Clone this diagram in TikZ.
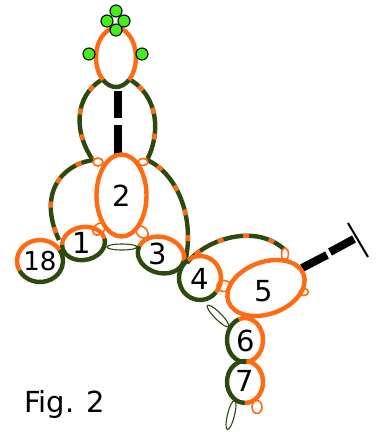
\documentclass[tikz,border=0pt]{standalone}
\usepackage{fontspec}
\setmainfont{DejaVu Sans}
\definecolor{ringorange}{HTML}{FF6A13}
\definecolor{ringgreen}{HTML}{2D4A0E}
\definecolor{beadgreen}{HTML}{44EE1A}
\tikzset{
  orangearc/.style={draw=ringorange,line width=4.4pt},
  greenarc/.style={draw=ringgreen,line width=4.4pt},
  chainline/.style={draw=ringgreen,line width=4.4pt,postaction={draw=ringorange,dash pattern=on 6pt off 20pt,dash phase=14pt}},
  picot/.style={draw=ringorange,fill=white,line width=1.6pt},
  josephine/.style={draw=ringgreen,fill=white,line width=1.1pt},
  bead/.style={draw=black,fill=beadgreen,line width=1.1pt},
  barline/.style={draw=black,line width=8pt},
  numlabel/.style={font=\fontsize{29}{29}\selectfont,inner sep=0pt}
}
% center, x radius, y radius, rotation, start, end
\newcommand{\ringarc}[7]{\draw[#1,shift={(#2)},rotate=#5] (#6:#3 and #4) arc[start angle=#6,end angle=#7,x radius=#3,y radius=#4];}
\begin{document}
\begin{tikzpicture}[x=1pt,y=1pt]
        \useasboundingbox (0,0) rectangle (379,-432);

        \coordinate (top) at (116,-57.5);
        \coordinate (R2) at (121.5,-195.5);
        \coordinate (R1) at (83.5,-243.5);
        \coordinate (R18) at (40,-261);
        \coordinate (R3) at (161,-255);
        \coordinate (R4) at (200,-278);
        \coordinate (R5) at (266,-288);
        \coordinate (R6) at (245,-340);
        \coordinate (R7) at (245,-382);

        % bars
        \draw[barline] (118,-91) -- (118,-118);
        \draw[barline] (118,-125) -- (118,-154);
        \draw[barline] (302,-268) -- (327,-255);
        \draw[barline] (330,-252) -- (354,-239);
        \draw[black,line width=2pt] (348,-223) -- (368,-257);

        % chains
        \coordinate (a) at (103,-79);
        \coordinate (b) at (93,-160);
        \coordinate (c) at (129,-79);
        \coordinate (d) at (147,-160);
        \coordinate (e) at (59,-240);
        \coordinate (f) at (185,-263);
        \coordinate (g) at (187,-263);
        \coordinate (h) at (285,-250);
        \draw[chainline] (a) .. controls (72,-97) and (75,-135) .. (b);
        \draw[chainline] (c) .. controls (160,-97) and (160,-135) .. (d);
        \draw[chainline] (b) .. controls (60,-165) and (38,-195) .. (e);
        \draw[chainline] (d) .. controls (175,-172) and (196,-215) .. (f);
        \draw[chainline] (g) .. controls (205,-240) and (255,-222) .. (h);

        % top ring
        \ringarc{orangearc}{top}{20}{29.5}{0}{-50}{230}
        \ringarc{greenarc}{top}{20}{29.5}{0}{230}{310}
        \draw[bead] (116,-11) circle (6);
        \draw[bead] (107,-21) circle (6);
        \draw[bead] (124,-21) circle (6);
        \draw[bead] (116,-30) circle (6);
        \draw[bead] (89,-54) circle (6);
        \draw[bead] (142,-54) circle (6);

        % small loops
        \draw[picot] (98,-162) ellipse [x radius=5,y radius=4];
        \draw[picot] (143,-162) ellipse [x radius=5,y radius=3.5];
        \draw[picot,rotate around={45:(99,-229)}] (99,-229) ellipse [x radius=7,y radius=5];
        \draw[picot,rotate around={-45:(142,-232)}] (142,-232) ellipse [x radius=7,y radius=5];
        \draw[picot] (285,-254) ellipse [x radius=3.5,y radius=6];
        \draw[picot] (224,-286) ellipse [x radius=7,y radius=5.5];
        \draw[picot] (304,-292) ellipse [x radius=4.5,y radius=3.5];
        \draw[picot] (257,-407) ellipse [x radius=5,y radius=6.5];
        \draw[josephine] (122,-247) ellipse [x radius=15,y radius=3];
        \draw[josephine,rotate around={-45:(218,-316)}] (218,-316) ellipse [x radius=15,y radius=3.5];
        \draw[josephine,rotate around={76:(231,-415)}] (231,-415) ellipse [x radius=15,y radius=3.5];

        % rings
        \ringarc{orangearc}{R2}{25}{41}{0}{0}{360}
        \ringarc{greenarc}{R1}{21.5}{16.5}{10}{170}{365}
        \ringarc{orangearc}{R1}{21.5}{16.5}{10}{5}{170}
        \ringarc{greenarc}{R18}{23}{21}{0}{207}{392}
        \ringarc{orangearc}{R18}{23}{21}{0}{32}{207}
        \ringarc{greenarc}{R3}{23.5}{18}{-15}{170}{360}
        \ringarc{orangearc}{R3}{23.5}{18}{-15}{0}{170}
        \ringarc{greenarc}{R4}{21}{22}{0}{125}{320}
        \ringarc{orangearc}{R4}{21}{22}{0}{-40}{125}
        \ringarc{orangearc}{R5}{40}{26}{20}{0}{360}
        \ringarc{greenarc}{R6}{18}{22}{0}{110}{275}
        \ringarc{orangearc}{R6}{18}{22}{0}{-85}{110}
        \ringarc{greenarc}{R7}{18}{21}{0}{85}{270}
        \ringarc{orangearc}{R7}{18}{21}{0}{-90}{85}

        \node[numlabel] (n2) at (122,-196) {2};
        \node[numlabel] (n1) at (82,-243) {1};
        \node[numlabel,font=\fontsize{26}{26}\selectfont] (n18) at (40,-261) {18};
        \node[numlabel] (n3) at (158,-254) {3};
        \node[numlabel] (n4) at (200,-279) {4};
        \node[numlabel] (n5) at (264,-291) {5};
        \node[numlabel] (n6) at (246,-341) {6};
        \node[numlabel] (n7) at (245,-381) {7};
        \node[inner sep=0pt,anchor=west,font=\fontsize{29}{29}\selectfont] (fig) at (24,-404) {Fig. 2};
        \end{tikzpicture}
\end{document}
